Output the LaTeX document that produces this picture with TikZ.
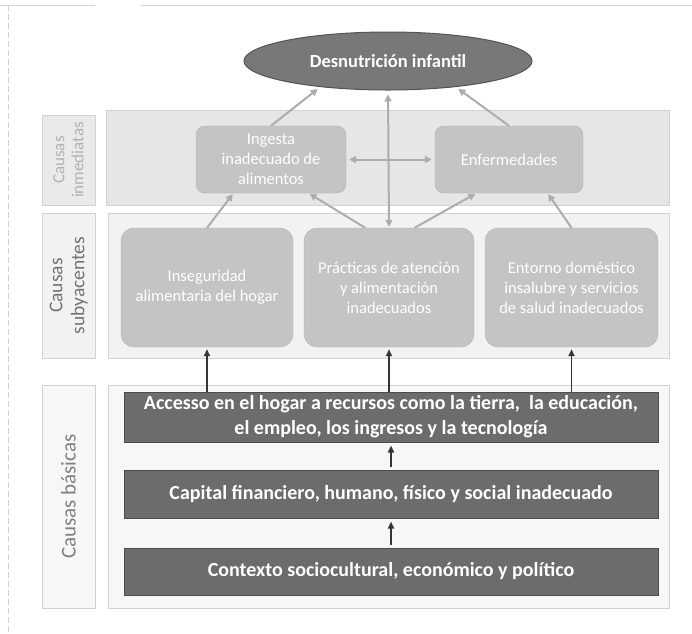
\documentclass[tikz,border=0pt]{standalone}
\usepackage{fontspec}
\setmainfont{Carlito}
\usetikzlibrary{shapes.geometric,calc,arrows.meta}
\definecolor{bandA}{HTML}{E6E6E6}
\definecolor{bandB}{HTML}{F2F2F2}
\definecolor{bandC}{HTML}{F7F7F7}
\definecolor{boxlight}{HTML}{C4C4C4}
\definecolor{boxdark}{HTML}{6C6C6C}
\definecolor{ellfill}{HTML}{787878}
\definecolor{arrlight}{HTML}{ADADAD}
\definecolor{arrdark}{HTML}{353535}
\definecolor{framec}{HTML}{D2D2D2}
\begin{document}
\begin{tikzpicture}[x=1pt,y=-1pt,
  band/.style={draw=framec,line width=0.5pt,inner sep=0pt,rectangle},
  lbl/.style={rotate=90,align=center,inner sep=0pt},
  immbox/.style={fill=boxlight,rounded corners=9pt,draw=boxlight!90!black,line width=0.4pt,
    text=white,align=center,font=\fontsize{16.5}{20}\selectfont,inner sep=0pt},
  subbox/.style={fill=boxlight,rounded corners=13pt,draw=boxlight!90!black,line width=0.4pt,
    text=white,align=center,font=\fontsize{16.5}{20}\selectfont,inner sep=0pt,
    minimum height=119pt},
  basbox/.style={fill=boxdark,draw=boxdark!70!black,line width=1pt,text=white,
    align=center,font=\bfseries\fontsize{20}{25}\selectfont,inner sep=0pt,minimum width=534pt},
  larr/.style={draw=arrlight,line width=2pt,-{Triangle[length=7pt,width=7pt]}},
  ldarr/.style={draw=arrlight,line width=2pt,{Triangle[length=7pt,width=7pt]}-{Triangle[length=7pt,width=7pt]}},
  darr/.style={draw=arrdark,line width=1.8pt,-{Triangle[length=7pt,width=6pt]}}
]
\useasboundingbox (0,0) rectangle (692,633);
\fill[white] (0,0) rectangle (692,633);
% faint page frame
\draw[framec,line width=0.6pt] (0,5) -- (95,5);
\draw[framec,line width=0.6pt] (141,5) -- (692,5);
\draw[framec,line width=0.6pt,dash pattern=on 6pt off 3pt] (8,5) -- (8,633);

% bands
\node[band,fill=bandA,minimum width=563pt,minimum height=95pt] (b1) at (387.5,157.5) {};
\node[band,fill=bandA!85!white,minimum width=53pt,minimum height=90pt] (l1) at (68.5,160) {};
\node[band,fill=bandB,minimum width=561pt,minimum height=145pt] (b2) at (388.5,285.5) {};
\node[band,fill=bandB,minimum width=53pt,minimum height=145pt] (l2) at (68.5,285.5) {};
\node[band,fill=bandC,minimum width=561pt,minimum height=223pt] (b3) at (388.5,496.5) {};
\node[band,fill=bandC,minimum width=53pt,minimum height=223pt] (l3) at (68.5,496.5) {};

\node[lbl,text=black!30,font=\fontsize{17}{19}\selectfont] (t1) at (l1.center) {Causas\\inmediatas};
\node[lbl,text=black!55,font=\fontsize{19.5}{22}\selectfont] (t2) at (l2.center) {Causas\\subyacentes};
\node[lbl,text=black!50,font=\fontsize{21}{24}\selectfont] (t3) at (l3.center) {Causas básicas};

% top ellipse
\node[ellipse,fill=ellfill,draw=ellfill!70!black,line width=1pt,minimum width=288pt,minimum height=58pt,
  text=white,font=\bfseries\fontsize{18.5}{22}\selectfont,inner sep=0pt] (ell) at (388,61) {Desnutrición infantil};

% immediate causes
\node[immbox,minimum width=150pt,minimum height=67pt] (ing) at (271,159.5) {Ingesta\\inadecuado de\\alimentos};
\node[immbox,minimum width=148pt,minimum height=67pt] (enf) at (509,159.5) {Enfermedades};

% underlying causes
\node[subbox,minimum width=172pt] (s1) at (207,287.5) {Inseguridad\\alimentaria del hogar};
\node[subbox,minimum width=170pt] (s2) at (389,287.5) {Prácticas de atención\\y alimentación\\inadecuados};
\node[subbox,minimum width=173pt] (s3) at (571.5,287.5) {Entorno doméstico\\insalubre y servicios\\de salud inadecuados};

% basic causes
\node[basbox,minimum height=50pt] (ba) at (391,417) {Accesso en el hogar a recursos como la tierra,\ \ la educación,\\el empleo, los ingresos y la tecnología};
\node[basbox,minimum height=48pt] (bb) at (391,494) {Capital financiero, humano, físico y social inadecuado};
\node[basbox,minimum height=47pt] (bc) at (391,571.5) {Contexto sociocultural, económico y político};

% light arrows (upper part)
\draw[larr,shorten >=3pt] (ing.north) -- (ell.201);
\draw[larr,shorten >=3pt] (enf.north) -- (ell.339);
\draw[ldarr,shorten >=1pt,shorten <=4pt] (ell.south) -- (s2.north);
\draw[ldarr,shorten >=3pt,shorten <=3pt] (ing.east) -- (enf.west);
\draw[larr,shorten >=1pt] (s1.north) -- ($(ing.south west)!0.25!(ing.south east)$);
\draw[larr,shorten >=1pt] ($(s2.north west)!0.36!(s2.north east)$) -- ($(ing.south west)!0.75!(ing.south east)$);
\draw[larr,shorten >=1pt] ($(s2.north west)!0.65!(s2.north east)$) -- ($(enf.south west)!0.28!(enf.south east)$);
\draw[larr,shorten >=1pt] (s3.north) -- ($(enf.south west)!0.76!(enf.south east)$);

% dark arrows (lower part)
\draw[darr,shorten >=2pt] (ba.north -| s1) -- (s1.south);
\draw[darr,shorten >=2pt] (ba.north -| s2) -- (s2.south);
\draw[darr,shorten >=2pt] (ba.north -| s3) -- (s3.south);
\draw[darr,shorten >=3pt,shorten <=3pt] (bb.north -| ba) -- (ba.south);
\draw[darr,shorten >=3pt,shorten <=3pt] (bc.north -| bb) -- (bb.south);
\end{tikzpicture}
\end{document}
